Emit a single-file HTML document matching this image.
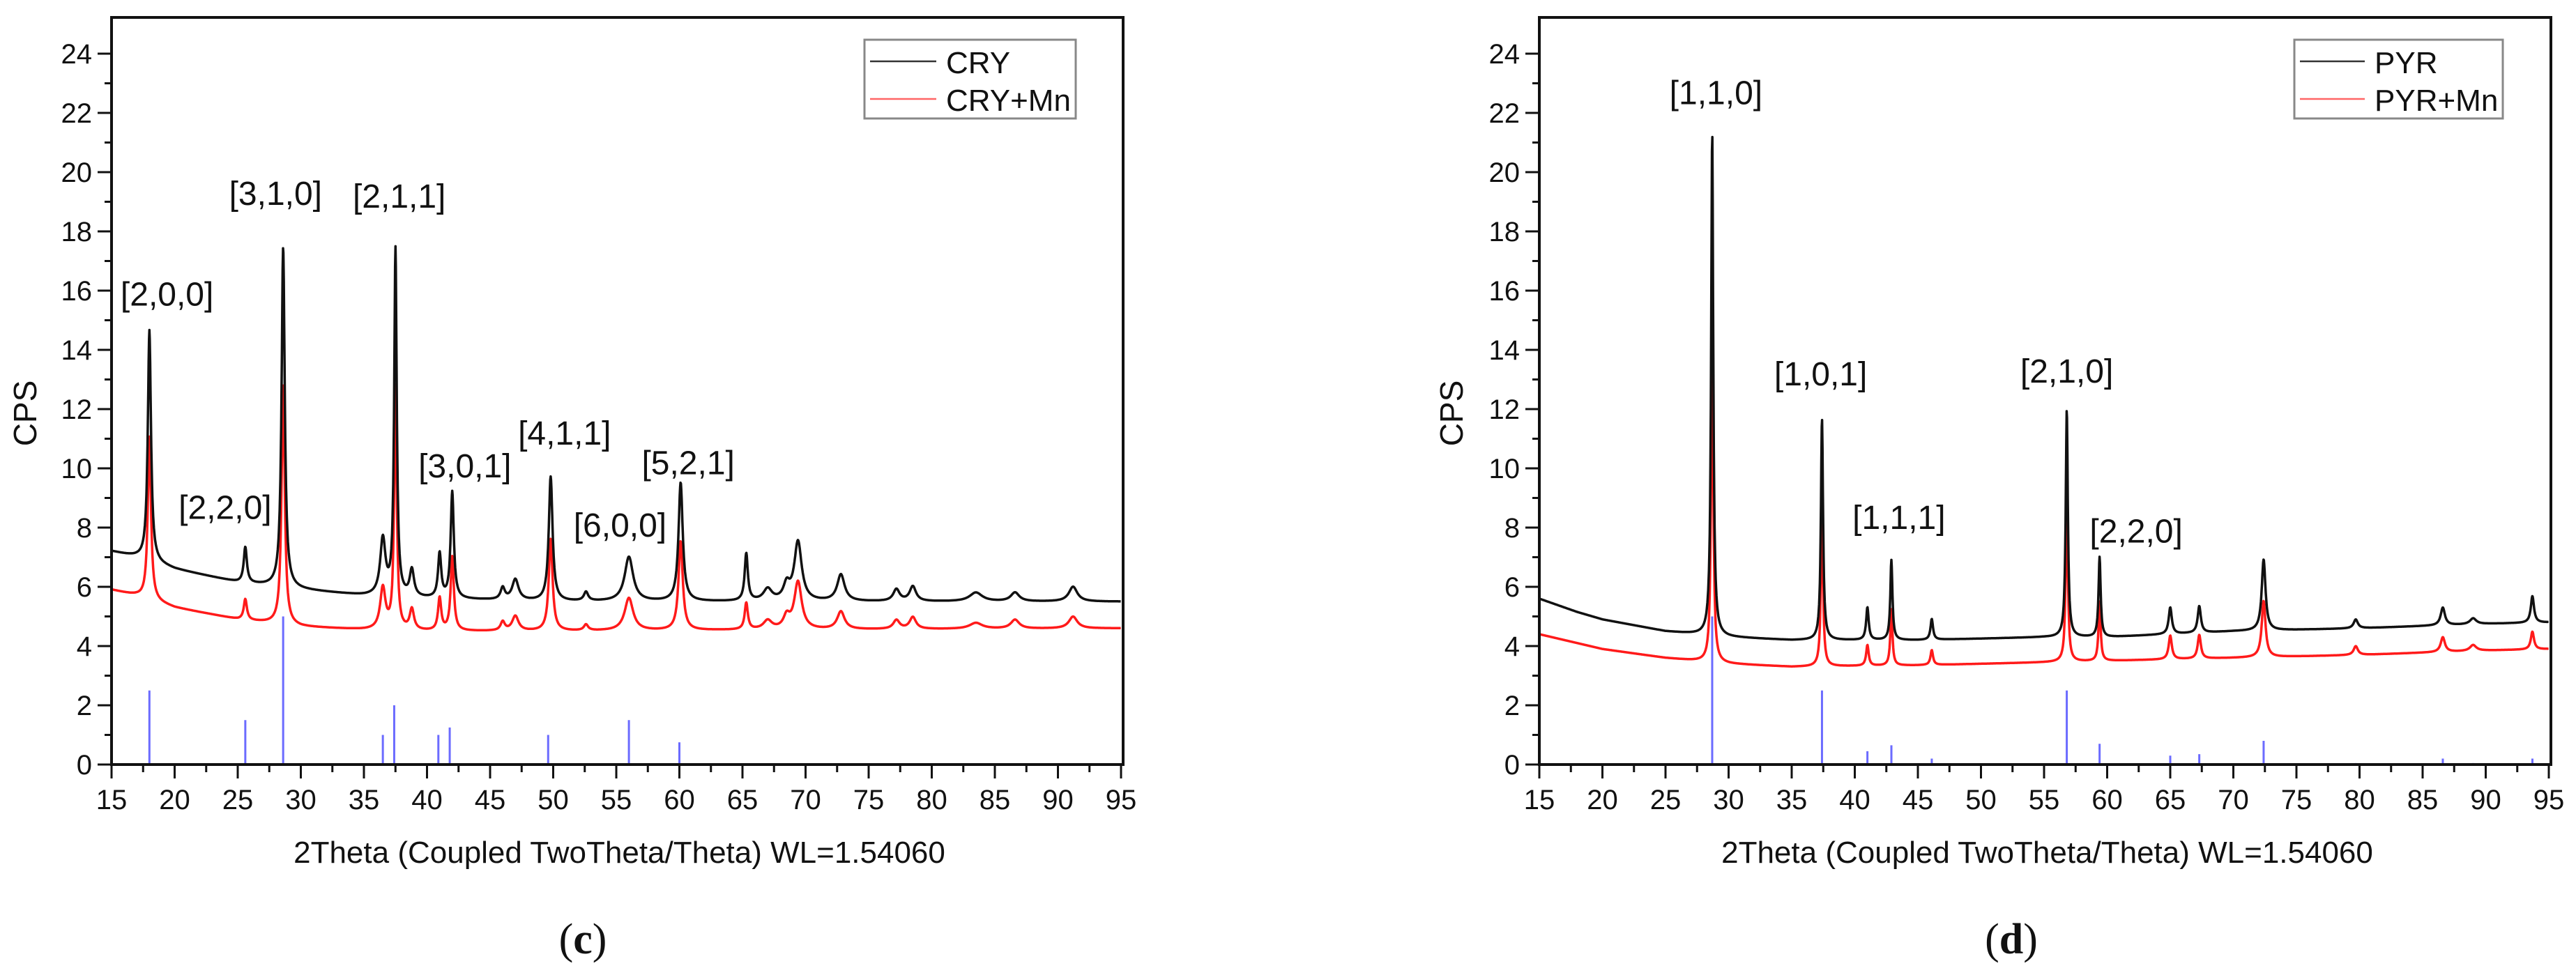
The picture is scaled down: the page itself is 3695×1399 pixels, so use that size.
<!DOCTYPE html>
<html><head><meta charset="utf-8">
<style>
html,body{margin:0;padding:0;background:#fff;}
svg{display:block;font-family:"Liberation Sans",Arial,sans-serif;}
</style></head>
<body>
<svg id="fig" width="3695" height="1399" viewBox="0 0 3695 1399" xmlns="http://www.w3.org/2000/svg">
<rect width="3695" height="1399" fill="#fff"/>
</svg>
<script>
// ---- data: panel (c) CRY ----
const cryBaseX = [15, 17, 20, 25, 30, 35, 40, 50, 70, 95];
const cryBlackBase = [7.2, 7.0, 6.6, 6.15, 5.9, 5.7, 5.6, 5.5, 5.5, 5.5];
const cryRedBase = [5.9, 5.7, 5.3, 4.9, 4.65, 4.55, 4.5, 4.5, 4.55, 4.6];
const cryPeakPos = [18.0, 25.6, 28.6, 36.5, 37.5, 38.8, 41.0, 42.0, 46.0, 47.0, 49.8, 52.6, 56.0, 60.1, 65.3, 67.0, 68.5, 69.4, 72.8, 77.2, 78.5, 83.5, 86.6, 91.2];
const cryPeakBlack = [7.8, 1.2, 11.5, 1.9, 11.7, 0.9, 1.5, 3.6, 0.4, 0.7, 4.2, 0.3, 1.5, 4.0, 1.6, 0.4, 0.5, 2.0, 0.9, 0.4, 0.5, 0.3, 0.3, 0.5];
const cryPeakRed = [5.5, 0.7, 8.1, 1.4, 8.2, 0.7, 1.1, 2.5, 0.3, 0.5, 3.1, 0.2, 1.1, 3.0, 0.9, 0.3, 0.4, 1.6, 0.6, 0.3, 0.4, 0.2, 0.3, 0.4];
const cryPeakWidth = [0.15, 0.15, 0.15, 0.25, 0.12, 0.2, 0.15, 0.15, 0.2, 0.3, 0.18, 0.2, 0.4, 0.2, 0.15, 0.4, 0.3, 0.35, 0.35, 0.3, 0.3, 0.6, 0.4, 0.4];
const cryStickPos = [18.0, 25.6, 28.6, 36.5, 37.4, 40.9, 41.8, 49.6, 56.0, 60.0];
const cryStickVal = [2.5, 1.5, 5.0, 1.0, 2.0, 1.0, 1.25, 1.0, 1.5, 0.75];
const cryLabels = ["[2,0,0]", "[2,2,0]", "[3,1,0]", "[2,1,1]", "[3,0,1]", "[4,1,1]", "[6,0,0]", "[5,2,1]"];
const cryLabelX = [19.4, 24.0, 28.0, 37.8, 43.0, 50.9, 55.3, 60.7];
const cryLabelY = [15.9, 8.7, 19.3, 19.2, 10.1, 11.2, 8.1, 10.2];

// ---- data: panel (d) PYR ----
const pyrBaseX = [15, 18, 20, 25, 30, 35, 45, 55, 60, 70, 80, 90, 95];
const pyrBlackBase = [5.6, 5.15, 4.9, 4.5, 4.3, 4.2, 4.2, 4.3, 4.3, 4.5, 4.6, 4.75, 4.8];
const pyrRedBase = [4.4, 4.1, 3.9, 3.6, 3.4, 3.3, 3.35, 3.45, 3.5, 3.6, 3.7, 3.85, 3.9];
const pyrPeakPos = [28.7, 37.4, 41.0, 42.9, 46.1, 56.8, 59.4, 65.0, 67.3, 72.4, 79.7, 86.6, 89.0, 93.7];
const pyrPeakBlack = [17.0, 7.5, 1.1, 2.7, 0.7, 7.7, 2.7, 0.9, 0.9, 2.4, 0.3, 0.6, 0.2, 0.9];
const pyrPeakRed = [11.3, 5.3, 0.7, 1.9, 0.5, 5.6, 2.0, 0.8, 0.8, 1.9, 0.3, 0.5, 0.2, 0.6];
const pyrPeakWidth = [0.1, 0.1, 0.12, 0.1, 0.12, 0.1, 0.1, 0.15, 0.15, 0.18, 0.2, 0.2, 0.3, 0.15];
const pyrStickPos = [28.7, 37.4, 41.0, 42.9, 46.1, 56.8, 59.4, 65.0, 67.3, 72.4, 79.7, 86.6, 89.0, 93.7];
const pyrStickVal = [5.0, 2.5, 0.45, 0.65, 0.2, 2.5, 0.7, 0.3, 0.35, 0.8, 0.05, 0.2, 0.05, 0.2];
const pyrLabels = ["[1,1,0]", "[1,0,1]", "[1,1,1]", "[2,1,0]", "[2,2,0]"];
const pyrLabelX = [29.0, 37.3, 43.5, 56.8, 62.3];
const pyrLabelY = [22.7, 13.2, 8.35, 13.3, 7.9];

const xTicks = [15, 20, 25, 30, 35, 40, 45, 50, 55, 60, 65, 70, 75, 80, 85, 90, 95];
const yTicks = [0, 2, 4, 6, 8, 10, 12, 14, 16, 18, 20, 22, 24];

const NS = "http://www.w3.org/2000/svg";
const svg = document.getElementById('fig');
function mk(tag, attrs, parent) {
  const e = document.createElementNS(NS, tag);
  for (const k in attrs) e.setAttribute(k, attrs[k]);
  (parent || svg).appendChild(e);
  return e;
}
function interp(xs, ys, x) {
  for (let i = 0; i < xs.length - 1; i++) {
    if (x <= xs[i + 1]) { const t = (x - xs[i]) / (xs[i + 1] - xs[i]); return ys[i] + t * (ys[i + 1] - ys[i]); }
  }
  return ys[ys.length - 1];
}
function spectrum(baseX, baseY, pos, hts, wid, x) {
  let v = interp(baseX, baseY, x);
  for (let i = 0; i < pos.length; i++) { const d = (x - pos[i]) / wid[i]; v += hts[i] / (1 + d * d); }
  return v;
}

function panel(p) {
  const g = mk('g', {});
  
  
  const X0 = p.left, X1 = p.right, Y0 = 1097, YT = 25;
  const sx = v => X0 + (v - 15) / 80 * (X1 - X0 - 3);
  const sy = v => Y0 - v * 42.5;

  // sticks
  for (let i = 0; i < p.stickPos.length; i++) {
    const l = mk('line', {x1: sx(p.stickPos[i]), x2: sx(p.stickPos[i]), y1: Y0, y2: sy(p.stickVal[i]), stroke: '#6b6bff', 'stroke-width': 3}, g);
    
    
  }
  // series
  const series = [[p.redBase, p.peakRed, '#ff1a1a', 'red-series'], [p.blackBase, p.peakBlack, '#111', 'black-series']];
  series.forEach(s => {
    let d = '';
    for (let x = 15; x <= 95.001; x += 0.03) {
      const v = spectrum(p.baseX, s[0], p.peakPos, s[1], p.peakWidth, x);
      d += (d ? 'L' : 'M') + sx(x).toFixed(1) + ' ' + sy(v).toFixed(1);
    }
    const path = mk('path', {d: d, fill: 'none', stroke: s[2], 'stroke-width': 3.5, 'stroke-linejoin': 'round'}, g);
    
    
  });
  // frame
  const fr = mk('rect', {x: X0, y: YT, width: X1 - X0, height: Y0 - YT, fill: 'none', stroke: '#111', 'stroke-width': 4}, g);
  
  
  // y ticks
  for (let v = 0; v <= 24.01; v += 1) {
    const major = (v % 2 === 0);
    mk('line', {x1: X0 - (major ? 20 : 10), x2: X0, y1: sy(v), y2: sy(v), stroke: '#111', 'stroke-width': 3}, g);
  }
  yTicks.forEach(v => {
    const t = mk('text', {x: X0 - 28, y: sy(v) + 14, 'text-anchor': 'end', 'font-size': 40, fill: '#111'}, g);
    t.textContent = v;
    
    
  });
  // x ticks
  for (let v = 15; v <= 95.01; v += 2.5) {
    const major = (Math.abs(v % 5) < 0.01);
    mk('line', {x1: sx(v), x2: sx(v), y1: Y0, y2: Y0 + (major ? 20 : 11), stroke: '#111', 'stroke-width': 3}, g);
  }
  xTicks.forEach(v => {
    const t = mk('text', {x: sx(v), y: 1161, 'text-anchor': 'middle', 'font-size': 40, fill: '#111'}, g);
    t.textContent = v;
    
    
  });
  // axis titles
  const yt = mk('text', {x: 0, y: 0, transform: `translate(${p.cpsX},593) rotate(-90)`, 'text-anchor': 'middle', 'font-size': 46, fill: '#111'}, g);
  yt.textContent = 'CPS';
  
  
  const xt = mk('text', {x: (X0 + X1) / 2 + 3, y: 1238, 'text-anchor': 'middle', 'font-size': 44, fill: '#111'}, g);
  xt.textContent = '2Theta (Coupled TwoTheta/Theta) WL=1.54060';
  
  
  // peak labels
  for (let i = 0; i < p.labels.length; i++) {
    const t = mk('text', {x: sx(p.labelX[i]), y: sy(p.labelY[i]) + 17, 'text-anchor': 'middle', 'font-size': 48, fill: '#111'}, g);
    t.textContent = p.labels[i];
    
    
  }
  // legend
  const lg = mk('g', {}, g);
  
  
  mk('rect', {x: p.legX, y: 57, width: p.legR - p.legX, height: 113, fill: '#fff', stroke: '#888', 'stroke-width': 3}, lg);
  [[p.s1, '#333', 92], [p.s2, '#ff6666', 146]].forEach(e => {
    const le = mk('g', {}, lg);
    
    
    mk('line', {x1: p.legX + 8, x2: p.lineEnd, y1: e[2] - 4, y2: e[2] - 4, stroke: e[1], 'stroke-width': 2.5}, le);
    const t = mk('text', {x: p.lineEnd + 14, y: e[2] + 13, 'font-size': 44, fill: '#111'}, le);
    t.textContent = e[0];
  });
  // caption
  const c = mk('text', {x: p.capX, y: 1368, 'text-anchor': 'middle', 'font-size': 62, 'font-family': '"Liberation Serif", serif', fill: '#111'}, g);
  c.innerHTML = '(<tspan font-weight="bold">' + p.cap + '</tspan>)';
  
  
}

panel({name: 'panel-c-cry', left: 160, right: 1611, cpsX: 52, baseX: cryBaseX, blackBase: cryBlackBase, redBase: cryRedBase,
  peakPos: cryPeakPos, peakBlack: cryPeakBlack, peakRed: cryPeakRed, peakWidth: cryPeakWidth,
  stickPos: cryStickPos, stickVal: cryStickVal, labels: cryLabels, labelX: cryLabelX, labelY: cryLabelY,
  legX: 1240, legR: 1543, lineEnd: 1343, s1: 'CRY', s2: 'CRY+Mn', capX: 836, cap: 'c'});
panel({name: 'panel-d-pyr', left: 2208, right: 3659, cpsX: 2098, baseX: pyrBaseX, blackBase: pyrBlackBase, redBase: pyrRedBase,
  peakPos: pyrPeakPos, peakBlack: pyrPeakBlack, peakRed: pyrPeakRed, peakWidth: pyrPeakWidth,
  stickPos: pyrStickPos, stickVal: pyrStickVal, labels: pyrLabels, labelX: pyrLabelX, labelY: pyrLabelY,
  legX: 3291, legR: 3590, lineEnd: 3392, s1: 'PYR', s2: 'PYR+Mn', capX: 2885, cap: 'd'});
</script>
</body></html>
